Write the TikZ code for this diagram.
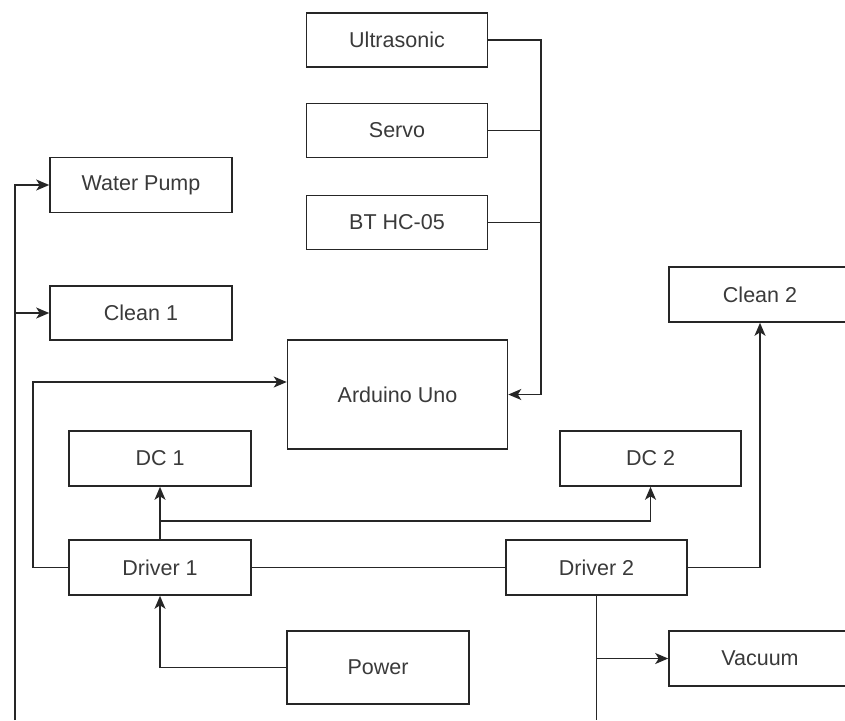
\documentclass[tikz,border=0pt]{standalone}
\usepackage{fontspec}
\setmainfont{Liberation Sans}
\usetikzlibrary{arrows.meta,calc}
\definecolor{ln}{HTML}{262626}
\definecolor{tx}{HTML}{3A3A3A}
\tikzset{
  blk/.style={draw=ln, line width=1.6pt, fill=white, rectangle, minimum width=182pt, minimum height=55pt, inner sep=0pt, text=tx, font=\fontsize{21.5}{26}\selectfont},
  wire/.style={draw=ln, line width=1.6pt},
  arr/.style={wire, -{Stealth[length=13pt,width=11pt,inset=3.5pt]}}
}
\begin{document}
\begin{tikzpicture}[x=1pt,y=-1pt]
\useasboundingbox (0,0) rectangle (845,720);
\clip (0,0) rectangle (845,720);
\fill[white] (0,0) rectangle (845,720);
% nodes
\node[blk, minimum width=181pt, minimum height=54pt] (ultra) at (397,40) {Ultrasonic};
\node[blk, minimum width=181pt, minimum height=54pt] (servo) at (397,130.5) {Servo};
\node[blk, minimum width=181pt, minimum height=54pt] (bt) at (397,222.5) {BT HC-05};
\node[blk] (wp) at (141,185) {Water Pump};
\node[blk, minimum height=54pt] (c1) at (141,313) {Clean 1};
\node[blk, minimum width=220pt, minimum height=109pt] (ard) at (397.5,394.5) {Arduino Uno};
\node[blk] (dc1) at (160,458.5) {DC 1};
\node[blk, minimum width=181pt] (dc2) at (650.5,458.5) {DC 2};
\node[blk] (d1) at (160,567.5) {Driver 1};
\node[blk, minimum width=181pt] (d2) at (596.5,567.5) {Driver 2};
\node[blk] (c2) at (760,294.5) {Clean 2};
\node[blk] (vac) at (760,658.5) {Vacuum};
\node[blk, minimum height=73pt] (pw) at (378,667.5) {Power};
% coordinates
\coordinate (bus) at (541,0);
\coordinate (lb) at (15,720);
\coordinate (ll) at (33,0);
\coordinate (br) at (0,521);
\coordinate (d2b) at (d2.south |- 0,720);
% sensor bus into Arduino
\draw[arr] (ultra.east) -| (bus |- ard.east) -- (ard.east);
\draw[wire] (servo.east) -- (servo.east -| bus);
\draw[wire] (bt.east) -- (bt.east -| bus);
% Driver 1 to Arduino
\draw[arr] (d1.west) -| (ll |- 0,382) -- (ard.west |- 0,382);
% left feed line
\draw[arr] (lb) |- (wp.west);
\draw[arr] (lb |- c1.west) -- (c1.west);
% Driver 1 to DC motors
\draw[arr] (d1.north) -- (dc1.south);
\draw[arr] (d1.north |- br) -| (dc2.south);
% Driver 1 to Driver 2
\draw[wire] (d1.east) -- (d2.west);
% Driver 2 outputs
\draw[arr] (d2.east) -| (c2.south);
\draw[wire] (d2.south) -- (d2b);
\draw[arr] (d2.south |- vac.west) -- (vac.west);
% Power
\draw[arr] (pw.west) -| (d1.south);
\end{tikzpicture}
\end{document}
